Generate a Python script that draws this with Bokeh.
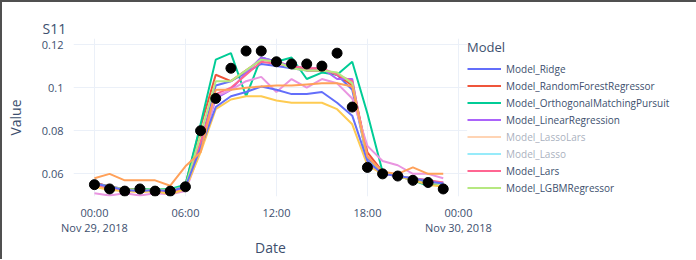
from bokeh.plotting import figure
from bokeh.models import FixedTicker, Legend, LegendItem, Range1d
from bokeh.embed import file_html
from bokeh.resources import INLINE

# ---- data (hourly values, Nov 29 2018 00:00 .. 23:00) ----
hours = list(range(24))
actual = [0.055, 0.053, 0.052, 0.053, 0.052, 0.052, 0.054, 0.080, 0.095, 0.109, 0.117, 0.117,
          0.112, 0.111, 0.111, 0.110, 0.116, 0.091, 0.063, 0.060, 0.059, 0.057, 0.056, 0.053]
model_ridge = [0.056, 0.054, 0.053, 0.052, 0.053, 0.052, 0.054, 0.074, 0.101, 0.103, 0.107, 0.111,
               0.110, 0.109, 0.108, 0.108, 0.106, 0.099, 0.067, 0.060, 0.059, 0.058, 0.057, 0.0555]
model_rf = [0.056, 0.054, 0.053, 0.053, 0.053, 0.052, 0.055, 0.082, 0.106, 0.103, 0.108, 0.113,
            0.112, 0.110, 0.108, 0.108, 0.106, 0.101, 0.070, 0.061, 0.059, 0.058, 0.056, 0.055]
model_omp = [0.0555, 0.054, 0.0525, 0.053, 0.053, 0.053, 0.055, 0.083, 0.113, 0.116, 0.096, 0.114,
             0.112, 0.114, 0.104, 0.107, 0.106, 0.112, 0.088, 0.061, 0.059, 0.057, 0.0545, 0.0555]
model_linreg = [0.055, 0.053, 0.052, 0.052, 0.052, 0.052, 0.053, 0.072, 0.095, 0.099, 0.107, 0.114,
                0.112, 0.110, 0.109, 0.109, 0.104, 0.104, 0.065, 0.060, 0.059, 0.058, 0.0565, 0.056]
model_lars = [0.055, 0.053, 0.052, 0.052, 0.052, 0.051, 0.053, 0.075, 0.097, 0.100, 0.106, 0.112,
              0.111, 0.110, 0.109, 0.109, 0.106, 0.103, 0.068, 0.061, 0.059, 0.058, 0.057, 0.056]
model_lgbm = [0.0555, 0.054, 0.053, 0.0525, 0.053, 0.0525, 0.054, 0.078, 0.103, 0.103, 0.108, 0.113,
              0.112, 0.109, 0.108, 0.108, 0.107, 0.102, 0.066, 0.061, 0.059, 0.058, 0.056, 0.055]
model_9 = [0.051, 0.050, 0.051, 0.050, 0.051, 0.0505, 0.052, 0.071, 0.096, 0.099, 0.103, 0.105,
           0.098, 0.104, 0.100, 0.104, 0.102, 0.095, 0.073, 0.066, 0.064, 0.060, 0.060, 0.058]
model_10 = [0.054, 0.0525, 0.052, 0.0515, 0.052, 0.0505, 0.053, 0.070, 0.090, 0.0945, 0.096, 0.096,
            0.094, 0.093, 0.093, 0.093, 0.090, 0.083, 0.064, 0.060, 0.059, 0.057, 0.055, 0.054]
model_11 = [0.0555, 0.054, 0.0525, 0.052, 0.0525, 0.052, 0.054, 0.072, 0.091, 0.096, 0.098, 0.1005,
            0.099, 0.097, 0.097, 0.098, 0.093, 0.087, 0.066, 0.060, 0.059, 0.058, 0.0565, 0.0555]
model_15 = [0.058, 0.060, 0.057, 0.057, 0.057, 0.0545, 0.0635, 0.070, 0.099, 0.099, 0.100, 0.1005,
            0.101, 0.101, 0.1015, 0.102, 0.102, 0.1005, 0.068, 0.061, 0.060, 0.063, 0.060, 0.060]

legend_names = ["Model_Ridge", "Model_RandomForestRegressor", "Model_OrthogonalMatchingPursuit",
                "Model_LinearRegression", "Model_LassoLars", "Model_Lasso", "Model_Lars",
                "Model_LGBMRegressor"]
x_ticks = [0, 6, 12, 18, 24]
x_tick_labels = ["00:00\nNov 29, 2018", "06:00", "12:00", "18:00", "00:00\nNov 30, 2018"]
y_ticks = [0.06, 0.08, 0.1, 0.12]
y_tick_labels = ["0.06", "0.08", "0.1", "0.12"]

TXT = "#3d4f6e"
FONT = "Open Sans"

p = figure(frame_width=394, frame_height=158, output_backend="svg", toolbar_location=None,
           x_range=Range1d(-1.38, 24.6), y_range=Range1d(0.0495, 0.1228),
           min_border_left=67, min_border_right=215, min_border_top=36, min_border_bottom=40)
p.styles = {"border-top": "2px solid #505050", "border-left": "2px solid #505050",
            "border-right": "2px solid #505050"}
p.outline_line_color = None
p.background_fill_color = "white"

p.title.text = "S11"
p.title.text_font = FONT
p.title.text_font_size = "14px"
p.title.text_font_style = "normal"
p.title.text_color = TXT
p.title.align = "left"
p.title.offset = -31
p.title.standoff = 2

for ax in (p.xaxis[0], p.yaxis[0]):
    ax.axis_line_color = None
    ax.major_tick_line_color = None
    ax.minor_tick_line_color = None
    ax.major_label_text_font = FONT
    ax.major_label_text_font_size = "11px"
    ax.major_label_text_color = TXT
    ax.axis_label_text_font = FONT
    ax.axis_label_text_font_size = "14px"
    ax.axis_label_text_font_style = "normal"
    ax.axis_label_text_color = TXT

p.xaxis.ticker = FixedTicker(ticks=x_ticks)
p.xaxis.major_label_overrides = {t: l for t, l in zip(x_ticks, x_tick_labels)}
p.xaxis.major_label_standoff = 2
p.xaxis.major_label_text_line_height = 1.0
p.xaxis.axis_label = "Date"
p.xaxis.axis_label_standoff = 0

p.yaxis.ticker = FixedTicker(ticks=y_ticks)
p.yaxis.major_label_overrides = {t: l for t, l in zip(y_ticks, y_tick_labels)}
p.yaxis.major_label_standoff = 4
p.yaxis.axis_label = "Value"
p.yaxis.axis_label_standoff = 14

for g in (p.xgrid[0], p.ygrid[0]):
    g.grid_line_color = "#EBF0F8"
    g.grid_line_width = 1
p.xgrid.ticker = FixedTicker(ticks=x_ticks)
p.ygrid.ticker = FixedTicker(ticks=y_ticks)

LW = 2
series = [
    ("Model_Ridge", model_ridge, "#636EFA"),
    ("Model_RandomForestRegressor", model_rf, "#EF553B"),
    ("Model_OrthogonalMatchingPursuit", model_omp, "#00CC96"),
    ("Model_LinearRegression", model_linreg, "#AB63FA"),
    ("Model_LassoLars", None, "#FFA15A"),
    ("Model_Lasso", None, "#19D3F3"),
    ("Model_Lars", model_lars, "#FF6692"),
    ("Model_LGBMRegressor", model_lgbm, "#B6E880"),
    ("model_9", model_9, "#E995E0"),
    ("model_10", model_10, "#FECB52"),
    ("model_11", model_11, "#636EFA"),
    ("model_15", model_15, "#FFA15A"),
]
renderers = {}
nan = float("nan")
for name, vals, col in series:
    if vals is None:
        # trace hidden in the original (legend entry greyed out): no values shown
        r = p.line(x=[nan], y=[nan], line_color=col, line_width=LW)
        r.visible = False
    else:
        r = p.line(x=hours, y=vals, line_color=col, line_width=LW)
    renderers[name] = r

p.scatter(x=hours, y=actual, size=10, color="black")

items = [LegendItem(label=n, renderers=[renderers[n]]) for n in legend_names]
legend = Legend(items=items, location="top_left", title="Model", click_policy="hide")
legend.title_text_font = FONT
legend.title_text_font_size = "13px"
legend.title_text_font_style = "normal"
legend.title_text_color = TXT
legend.title_standoff = 4
legend.label_text_font = FONT
legend.label_text_font_size = "10px"
legend.label_text_color = TXT
legend.glyph_width = 34
legend.glyph_height = 17
legend.label_height = 17
legend.label_standoff = 5
legend.spacing = 0
legend.padding = 5
legend.margin = 0
legend.border_line_color = None
legend.background_fill_alpha = 0
legend.inactive_fill_color = "white"
legend.inactive_fill_alpha = 0.55
p.add_layout(legend, "right")

open("out.html", "w").write(file_html(p, INLINE))
